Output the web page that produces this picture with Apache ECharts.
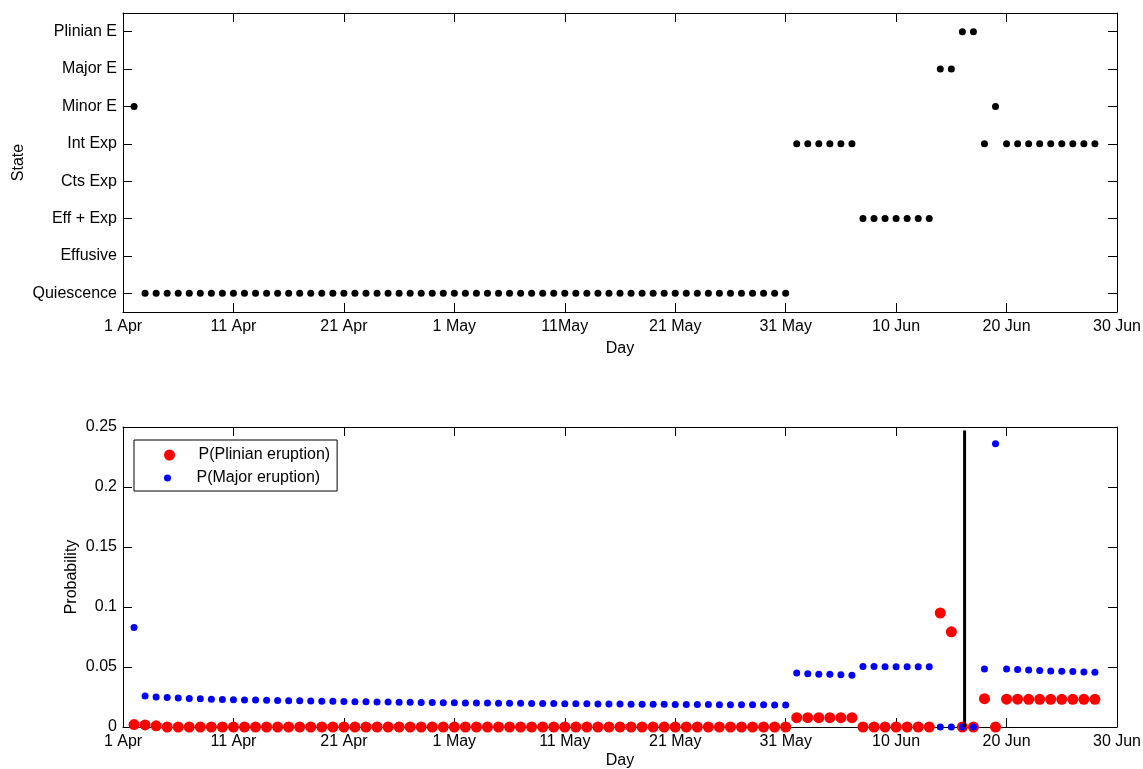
<!DOCTYPE html>
<html>
<head>
<meta charset="utf-8">
<script src="https://cdn.jsdelivr.net/npm/echarts@6/dist/echarts.min.js"></script>
<style>
  html, body { margin: 0; padding: 0; background: #fff; }
  #chart { width: 1143px; height: 769px; }
</style>
</head>
<body>
<div id="chart"></div>
<script>
// state categories, bottom to top
const states = ["Quiescence", "Effusive", "Eff + Exp", "Cts Exp", "Int Exp", "Minor E", "Major E", "Plinian E"];

// x tick labels (days 0..90 every 10 days)
const topTickLabels = ["1 Apr", "11 Apr", "21 Apr", "1 May", "11May", "21 May", "31 May", "10 Jun", "20 Jun", "30 Jun"];
const bottomTickLabels = ["1 Apr", "11 Apr", "21 Apr", "1 May", "11 May", "21 May", "31 May", "10 Jun", "20 Jun", "30 Jun"];

// observed state per day (index into states), days 1..88
const stateIdx = [
  5,
  0, 0, 0, 0, 0, 0, 0, 0, 0, 0, 0, 0, 0, 0, 0, 0, 0, 0, 0, 0,
  0, 0, 0, 0, 0, 0, 0, 0, 0, 0, 0, 0, 0, 0, 0, 0, 0, 0, 0, 0,
  0, 0, 0, 0, 0, 0, 0, 0, 0, 0, 0, 0, 0, 0, 0, 0, 0, 0, 0,
  4, 4, 4, 4, 4, 4,
  2, 2, 2, 2, 2, 2, 2,
  6, 6,
  7, 7,
  4,
  5,
  4, 4, 4, 4, 4, 4, 4, 4, 4
];

// P(Plinian eruption), days 1..88
const pPlinian = [
  0.002, 0.0017, 0.001, 0, 0, 0, 0, 0, 0, 0,
  0, 0, 0, 0, 0, 0, 0, 0, 0, 0,
  0, 0, 0, 0, 0, 0, 0, 0, 0, 0,
  0, 0, 0, 0, 0, 0, 0, 0, 0, 0,
  0, 0, 0, 0, 0, 0, 0, 0, 0, 0,
  0, 0, 0, 0, 0, 0, 0, 0, 0, 0,
  0.0078, 0.0078, 0.0078, 0.0078, 0.0078, 0.0078,
  0, 0, 0, 0, 0, 0, 0,
  0.095, 0.0793,
  0, 0,
  0.0236,
  0,
  0.0232, 0.0232, 0.0231, 0.0231, 0.0231, 0.0231, 0.0231, 0.0231, 0.0231
];

// P(Major eruption), days 1..88
const pMajor = [
  0.083,
  0.0258, 0.0250, 0.0245, 0.0241, 0.0238, 0.0235, 0.0232, 0.0230, 0.0228, 0.0226,
  0.0224, 0.0222, 0.0221, 0.0219, 0.0218, 0.0216, 0.0215, 0.0214, 0.0213, 0.0211,
  0.0210, 0.0209, 0.0208, 0.0207, 0.0206, 0.0205, 0.0204, 0.0203, 0.0202, 0.0201,
  0.0200, 0.0199, 0.0198, 0.0198, 0.0197, 0.0196, 0.0195, 0.0195, 0.0194, 0.0193,
  0.0193, 0.0192, 0.0191, 0.0191, 0.0190, 0.0190, 0.0189, 0.0189, 0.0188, 0.0188,
  0.0187, 0.0187, 0.0186, 0.0186, 0.0186, 0.0185, 0.0185, 0.0184, 0.0184,
  0.0451, 0.0443, 0.0440, 0.0439, 0.0435, 0.0432,
  0.0504, 0.0504, 0.0503, 0.0503, 0.0503, 0.0503, 0.0503,
  0, 0,
  0, 0,
  0.0484,
  0.236,
  0.0484, 0.0479, 0.0476, 0.0471, 0.0467, 0.0465, 0.0462, 0.0459, 0.0457
];

// forecast cut-off line
const cutDay = 76.2;
const cutTop = 0.247;

const firstDay = 1;
const font = "Liberation Sans";

const chart = echarts.init(document.getElementById("chart"), null, { renderer: "canvas" });

function frameX(gridIndex, position, labels, name, nameGap) {
  return {
    type: "value",
    gridIndex: gridIndex,
    position: position,
    min: 0,
    max: 90,
    interval: 10,
    name: name,
    nameLocation: "middle",
    nameGap: nameGap,
    nameMoveOverlap: false,
    nameTextStyle: { color: "#000", fontFamily: font, fontSize: 16 },
    axisLine: { show: true, onZero: false, lineStyle: { color: "#000", width: 1 } },
    axisTick: { show: true, inside: true, length: 9, lineStyle: { color: "#000" } },
    axisLabel: {
      show: !!labels,
      margin: 7,
      color: "#000",
      fontFamily: font,
      fontSize: 16,
      formatter: (v) => (labels ? labels[Math.round(v / 10)] : "")
    },
    splitLine: { show: false }
  };
}

function stateY(position, showLabels) {
  return {
    type: "category",
    gridIndex: 0,
    position: position,
    data: states,
    boundaryGap: true,
    name: showLabels ? "State" : "",
    nameLocation: "middle",
    nameGap: 96,
    nameMoveOverlap: false,
    nameTextStyle: { color: "#000", fontFamily: font, fontSize: 16 },
    axisLine: { show: true, onZero: false, lineStyle: { color: "#000", width: 1 } },
    axisTick: { show: true, inside: true, length: 9, alignWithLabel: true, lineStyle: { color: "#000" } },
    axisLabel: { show: showLabels, interval: 0, margin: 6, color: "#000", fontFamily: font, fontSize: 16 },
    splitLine: { show: false }
  };
}

function probY(position, showLabels) {
  return {
    type: "value",
    gridIndex: 1,
    position: position,
    min: 0,
    max: 0.25,
    interval: 0.05,
    name: showLabels ? "Probability" : "",
    nameLocation: "middle",
    nameGap: 43,
    nameMoveOverlap: false,
    nameTextStyle: { color: "#000", fontFamily: font, fontSize: 16 },
    axisLine: { show: true, onZero: false, lineStyle: { color: "#000", width: 1 } },
    axisTick: { show: true, inside: true, length: 9, lineStyle: { color: "#000" } },
    axisLabel: {
      show: showLabels,
      margin: 6,
      color: "#000",
      fontFamily: font,
      fontSize: 16,
      formatter: (v) => String(Math.round(v * 100) / 100)
    },
    splitLine: { show: false }
  };
}

const option = {
  animation: false,
  backgroundColor: "#fff",
  grid: [
    { left: 123, top: 13, width: 994, height: 299, outerBoundsMode: "none", containLabel: false },
    { left: 123, top: 427, width: 994, height: 300, outerBoundsMode: "none", containLabel: false }
  ],
  xAxis: [
    frameX(0, "bottom", topTickLabels, "Day", 29),
    frameX(0, "top", null, "", 0),
    frameX(1, "bottom", bottomTickLabels, "Day", 26),
    frameX(1, "top", null, "", 0)
  ],
  yAxis: [
    stateY("left", true),
    stateY("right", false),
    probY("left", true),
    probY("right", false)
  ],
  legend: [
    {
      data: ["P(Plinian eruption)"],
      left: 134,
      top: 440,
      orient: "vertical",
      itemWidth: 48,
      itemHeight: 11,
      padding: [7, 7, 28, 30],
      borderColor: "#000",
      borderWidth: 1,
      backgroundColor: "#fff",
      selectedMode: false,
      textStyle: { color: "#000", fontFamily: font, fontSize: 16 }
    },
    {
      data: ["P(Major eruption)"],
      left: 164,
      top: 470,
      z: 6,
      orient: "vertical",
      itemWidth: 48,
      itemHeight: 7,
      padding: 0,
      selectedMode: false,
      textStyle: { color: "#000", fontFamily: font, fontSize: 16 }
    }
  ],
  series: [
    {
      name: "State",
      type: "scatter",
      xAxisIndex: 0,
      yAxisIndex: 0,
      symbolSize: 7,
      itemStyle: { color: "#000", opacity: 1 },
      data: stateIdx.map((s, i) => [firstDay + i, states[s]])
    },
    {
      name: "P(Plinian eruption)",
      type: "scatter",
      xAxisIndex: 2,
      yAxisIndex: 2,
      symbolSize: 11,
      itemStyle: { color: "#ff0000", opacity: 1 },
      data: pPlinian.map((v, i) => [firstDay + i, v])
    },
    {
      name: "P(Major eruption)",
      type: "scatter",
      xAxisIndex: 2,
      yAxisIndex: 2,
      symbolSize: 7,
      itemStyle: { color: "#0000ff", opacity: 1 },
      data: pMajor.map((v, i) => [firstDay + i, v])
    },
    {
      name: "cut",
      type: "line",
      xAxisIndex: 2,
      yAxisIndex: 2,
      showSymbol: false,
      silent: true,
      lineStyle: { color: "#000", width: 3 },
      data: [[cutDay, 0], [cutDay, cutTop]]
    }
  ]
};

chart.setOption(option);
</script>
</body>
</html>
